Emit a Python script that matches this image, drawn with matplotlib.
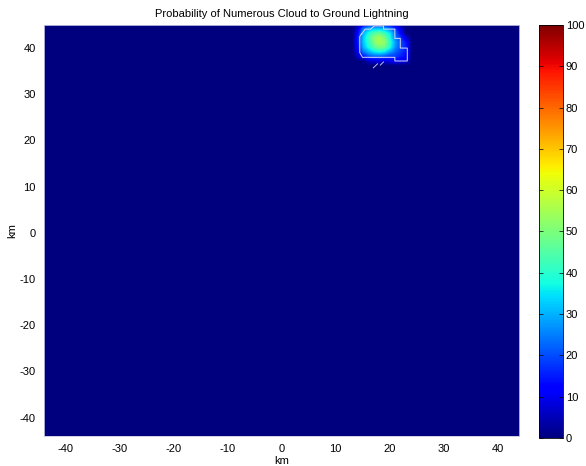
import numpy as np
import matplotlib
matplotlib.use('Agg')
import matplotlib.pyplot as plt

plt.rcParams['font.family'] = ['Liberation Sans', 'DejaVu Sans']
plt.rcParams['font.size'] = 8
plt.rcParams['axes.unicode_minus'] = False

# 1 km analysis grid
grid_x = np.arange(-44, 45)
grid_y = np.arange(-44, 46)

# probability (%) inside the storm cell, rows from y=45 km down to y=36 km
cell_x = [14, 15, 16, 17, 18, 19, 20, 21, 22, 23, 24]
cell_y = [45, 44, 43, 42, 41, 40, 39, 38, 37, 36]
cell_prob = [
    [0, 8, 14, 15, 15, 12, 10, 6, 0, 0, 0],
    [8, 24, 30, 32, 32, 30, 25, 18, 8, 0, 0],
    [12, 30, 38, 45, 48, 42, 35, 22, 12, 0, 0],
    [14, 32, 42, 52, 55, 50, 38, 24, 18, 8, 0],
    [14, 32, 40, 50, 55, 52, 40, 28, 20, 14, 0],
    [12, 30, 38, 45, 50, 48, 38, 26, 20, 15, 0],
    [10, 24, 30, 35, 38, 35, 28, 22, 18, 14, 0],
    [6, 14, 20, 22, 22, 20, 18, 18, 15, 12, 0],
    [0, 0, 6, 8, 8, 8, 10, 12, 10, 8, 0],
    [0, 0, 0, 0, 0, 0, 0, 0, 0, 0, 0],
]

# cell outline (km)
outline_x = [14.8, 15.5, 16.5, 17.2, 18.9, 18.9, 21.0, 21.0, 22.0, 22.0, 23.3,
             23.3, 21.0, 21.0, 15.0, 14.5, 14.5, 14.8]
outline_y = [43.0, 44.1, 44.1, 44.8, 44.8, 44.1, 44.1, 42.1, 42.1, 40.0, 40.0,
             37.2, 37.2, 38.0, 38.0, 39.0, 42.5, 43.0]
trail_x = [[17.0, 17.8], [18.3, 18.9]]
trail_y = [[35.7, 36.6], [36.3, 37.0]]

field = np.zeros((len(grid_y), len(grid_x)))
for i, yv in enumerate(cell_y):
    for j, xv in enumerate(cell_x):
        field[yv - grid_y[0], xv - grid_x[0]] = cell_prob[i][j]

fig = plt.figure(figsize=(5.86, 4.66), dpi=100)
ax = fig.add_axes([0.0751, 0.0644, 0.8106, 0.882])
im = ax.imshow(field, cmap='jet', vmin=0, vmax=100, origin='lower',
               interpolation='bilinear', aspect='auto',
               extent=[grid_x[0] - 0.5, grid_x[-1] + 0.5,
                       grid_y[0] - 0.5, grid_y[-1] + 0.5])
ax.plot(outline_x, outline_y, color='#d8d8f0', lw=0.7)
for tx, ty in zip(trail_x, trail_y):
    ax.plot(tx, ty, color='#d8d8f0', lw=0.6)
ax.set_xlim(-44, 44)
ax.set_ylim(-44, 45)
ax.set_xticks(np.arange(-40, 41, 10))
ax.set_yticks(np.arange(-40, 41, 10))
ax.tick_params(direction='in', length=0, pad=6)
for s in ax.spines.values():
    s.set_color('#c8c8e8')
    s.set_linewidth(0.6)
ax.set_xlabel('km', labelpad=1)
ax.set_ylabel('km', labelpad=2)
ax.set_title('Probability of Numerous Cloud to Ground Lightning', fontsize=8, pad=6)

cax = fig.add_axes([0.9198, 0.0601, 0.041, 0.8863])
cb = fig.colorbar(im, cax=cax, ticks=np.arange(0, 101, 10))
cb.outline.set_linewidth(0.6)
cax.tick_params(direction='in', length=3, width=0.5, pad=2, right=True, left=True)

fig.savefig('out.png', dpi=100)
